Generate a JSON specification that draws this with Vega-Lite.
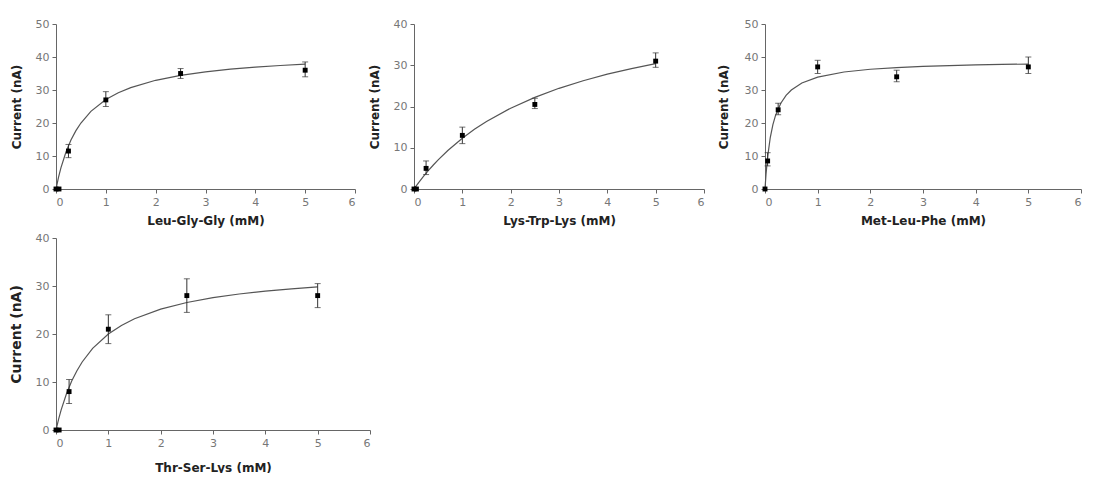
{
  "$schema": "https://vega.github.io/schema/vega-lite/v6.json",
  "background": "white",
  "padding": {"left": 9, "top": 18, "right": 0, "bottom": 0},
  "spacing": 6,
  "config": {
    "view": {"stroke": null},
    "font": "DejaVu Sans",
    "axis": {
      "grid": false,
      "domainColor": "#666",
      "tickColor": "#666",
      "tickSize": 4,
      "labelColor": "#777",
      "labelFontSize": 11,
      "labelPadding": 3,
      "titleColor": "#222",
      "titleFontSize": 12,
      "titleFontWeight": "bold"
    },
    "axisX": {"titlePadding": 8},
    "axisY": {"titlePadding": 12}
  },
  "datasets": {
    "pts": [
      {"p": "LGG", "x": 0, "y": 0},
      {"p": "LGG", "x": 0.06, "y": 0},
      {"p": "LGG", "x": 0.25, "y": 11.5, "lo": 9.5, "hi": 13.5},
      {"p": "LGG", "x": 1, "y": 27, "lo": 25, "hi": 29.5},
      {"p": "LGG", "x": 2.5, "y": 35, "lo": 33.5, "hi": 36.5},
      {"p": "LGG", "x": 5, "y": 36, "lo": 34, "hi": 38.5},
      {"p": "KWK", "x": 0, "y": 0},
      {"p": "KWK", "x": 0.05, "y": 0},
      {"p": "KWK", "x": 0.25, "y": 5, "lo": 3.5, "hi": 6.8},
      {"p": "KWK", "x": 1, "y": 13, "lo": 11, "hi": 15},
      {"p": "KWK", "x": 2.5, "y": 20.5, "lo": 19.5, "hi": 22},
      {"p": "KWK", "x": 5, "y": 31, "lo": 29.5, "hi": 33},
      {"p": "MLF", "x": 0, "y": 0},
      {"p": "MLF", "x": 0.05, "y": 8.5, "lo": 7, "hi": 11},
      {"p": "MLF", "x": 0.25, "y": 24, "lo": 22.5, "hi": 26},
      {"p": "MLF", "x": 1, "y": 37, "lo": 35, "hi": 39},
      {"p": "MLF", "x": 2.5, "y": 34, "lo": 32.5, "hi": 36},
      {"p": "MLF", "x": 5, "y": 37, "lo": 35, "hi": 40},
      {"p": "TSK", "x": 0, "y": 0},
      {"p": "TSK", "x": 0.06, "y": 0},
      {"p": "TSK", "x": 0.25, "y": 8, "lo": 5.5, "hi": 10.5},
      {"p": "TSK", "x": 1, "y": 21, "lo": 18, "hi": 24},
      {"p": "TSK", "x": 2.5, "y": 28, "lo": 24.5, "hi": 31.5},
      {"p": "TSK", "x": 5, "y": 28, "lo": 25.5, "hi": 30.5}
    ],
    "fit": [
      {"p": "LGG", "x": 0, "y": 0}, {"p": "LGG", "x": 0.05, "y": 3.5}, {"p": "LGG", "x": 0.1, "y": 6.46},
      {"p": "LGG", "x": 0.2, "y": 11.2}, {"p": "LGG", "x": 0.3, "y": 14.82}, {"p": "LGG", "x": 0.4, "y": 17.68},
      {"p": "LGG", "x": 0.5, "y": 20.0}, {"p": "LGG", "x": 0.7, "y": 23.52}, {"p": "LGG", "x": 1, "y": 27.1},
      {"p": "LGG", "x": 1.25, "y": 29.17}, {"p": "LGG", "x": 1.5, "y": 30.73}, {"p": "LGG", "x": 2, "y": 32.94},
      {"p": "LGG", "x": 2.5, "y": 34.43}, {"p": "LGG", "x": 3, "y": 35.49}, {"p": "LGG", "x": 3.5, "y": 36.3},
      {"p": "LGG", "x": 4, "y": 36.92}, {"p": "LGG", "x": 4.5, "y": 37.43}, {"p": "LGG", "x": 5, "y": 37.84},
      {"p": "KWK", "x": 0, "y": 0}, {"p": "KWK", "x": 0.05, "y": 0.81}, {"p": "KWK", "x": 0.1, "y": 1.6},
      {"p": "KWK", "x": 0.2, "y": 3.1}, {"p": "KWK", "x": 0.3, "y": 4.5}, {"p": "KWK", "x": 0.4, "y": 5.82},
      {"p": "KWK", "x": 0.5, "y": 7.06}, {"p": "KWK", "x": 0.7, "y": 9.33}, {"p": "KWK", "x": 1, "y": 12.31},
      {"p": "KWK", "x": 1.25, "y": 14.46}, {"p": "KWK", "x": 1.5, "y": 16.36}, {"p": "KWK", "x": 2, "y": 19.59},
      {"p": "KWK", "x": 2.5, "y": 22.22}, {"p": "KWK", "x": 3, "y": 24.41}, {"p": "KWK", "x": 3.5, "y": 26.25},
      {"p": "KWK", "x": 4, "y": 27.83}, {"p": "KWK", "x": 4.5, "y": 29.19}, {"p": "KWK", "x": 5, "y": 30.38},
      {"p": "MLF", "x": 0, "y": 0}, {"p": "MLF", "x": 0.02, "y": 4.59}, {"p": "MLF", "x": 0.05, "y": 9.75},
      {"p": "MLF", "x": 0.1, "y": 15.6}, {"p": "MLF", "x": 0.15, "y": 19.5}, {"p": "MLF", "x": 0.2, "y": 22.29},
      {"p": "MLF", "x": 0.3, "y": 26.0}, {"p": "MLF", "x": 0.4, "y": 28.36}, {"p": "MLF", "x": 0.5, "y": 30.0},
      {"p": "MLF", "x": 0.7, "y": 32.12}, {"p": "MLF", "x": 1, "y": 33.91}, {"p": "MLF", "x": 1.5, "y": 35.45},
      {"p": "MLF", "x": 2, "y": 36.28}, {"p": "MLF", "x": 2.5, "y": 36.79}, {"p": "MLF", "x": 3, "y": 37.14},
      {"p": "MLF", "x": 3.5, "y": 37.4}, {"p": "MLF", "x": 4, "y": 37.59}, {"p": "MLF", "x": 4.5, "y": 37.74},
      {"p": "MLF", "x": 5, "y": 37.86},
      {"p": "TSK", "x": 0, "y": 0}, {"p": "TSK", "x": 0.05, "y": 2.27}, {"p": "TSK", "x": 0.1, "y": 4.25},
      {"p": "TSK", "x": 0.2, "y": 7.56}, {"p": "TSK", "x": 0.3, "y": 10.2}, {"p": "TSK", "x": 0.4, "y": 12.36},
      {"p": "TSK", "x": 0.5, "y": 14.17}, {"p": "TSK", "x": 0.7, "y": 17.0}, {"p": "TSK", "x": 1, "y": 20.0},
      {"p": "TSK", "x": 1.25, "y": 21.79}, {"p": "TSK", "x": 1.5, "y": 23.18}, {"p": "TSK", "x": 2, "y": 25.19},
      {"p": "TSK", "x": 2.5, "y": 26.56}, {"p": "TSK", "x": 3, "y": 27.57}, {"p": "TSK", "x": 3.5, "y": 28.33},
      {"p": "TSK", "x": 4, "y": 28.94}, {"p": "TSK", "x": 4.5, "y": 29.42}, {"p": "TSK", "x": 5, "y": 29.82}
    ]
  },
  "vconcat": [
    {
      "spacing": 12,
      "hconcat": [
        {
          "width": 299, "height": 165,
          "encoding": {
            "x": {"field": "x", "type": "quantitative", "title": "Leu-Gly-Gly (mM)", "scale": {"domain": [0, 6], "nice": false}, "axis": {"values": [0,1,2,3,4,5,6]}},
            "y": {"field": "y", "type": "quantitative", "title": "Current (nA)", "scale": {"domain": [0, 50], "nice": false}, "axis": {"values": [0,10,20,30,40,50]}}
          },
          "layer": [
            {"data": {"name": "fit"}, "transform": [{"filter": "datum.p === 'LGG'"}],
             "mark": {"type": "line", "color": "#555", "strokeWidth": 1.2}},
            {"data": {"name": "pts"}, "transform": [{"filter": "datum.p === 'LGG' && isValid(datum.lo)"}],
             "mark": {"type": "errorbar", "ticks": {"size": 6, "color": "#333"}, "rule": {"color": "#333"}},
             "encoding": {"y": {"field": "lo", "type": "quantitative", "title": "Current (nA)"}, "y2": {"field": "hi"}}},
            {"data": {"name": "pts"}, "transform": [{"filter": "datum.p === 'LGG'"}],
             "mark": {"type": "point", "shape": "square", "filled": true, "color": "#000", "size": 24, "opacity": 1}}
          ]
        },
        {
          "width": 290, "height": 165,
          "encoding": {
            "x": {"field": "x", "type": "quantitative", "title": "Lys-Trp-Lys (mM)", "scale": {"domain": [0, 6], "nice": false}, "axis": {"values": [0,1,2,3,4,5,6]}},
            "y": {"field": "y", "type": "quantitative", "title": "Current (nA)", "scale": {"domain": [0, 40], "nice": false}, "axis": {"values": [0,10,20,30,40]}}
          },
          "layer": [
            {"data": {"name": "fit"}, "transform": [{"filter": "datum.p === 'KWK'"}],
             "mark": {"type": "line", "color": "#555", "strokeWidth": 1.2}},
            {"data": {"name": "pts"}, "transform": [{"filter": "datum.p === 'KWK' && isValid(datum.lo)"}],
             "mark": {"type": "errorbar", "ticks": {"size": 6, "color": "#333"}, "rule": {"color": "#333"}},
             "encoding": {"y": {"field": "lo", "type": "quantitative", "title": "Current (nA)"}, "y2": {"field": "hi"}}},
            {"data": {"name": "pts"}, "transform": [{"filter": "datum.p === 'KWK'"}],
             "mark": {"type": "point", "shape": "square", "filled": true, "color": "#000", "size": 24, "opacity": 1}}
          ]
        },
        {
          "width": 316, "height": 165,
          "encoding": {
            "x": {"field": "x", "type": "quantitative", "title": "Met-Leu-Phe (mM)", "scale": {"domain": [0, 6], "nice": false}, "axis": {"values": [0,1,2,3,4,5,6]}},
            "y": {"field": "y", "type": "quantitative", "title": "Current (nA)", "scale": {"domain": [0, 50], "nice": false}, "axis": {"values": [0,10,20,30,40,50], "titlePadding": 14}}
          },
          "layer": [
            {"data": {"name": "fit"}, "transform": [{"filter": "datum.p === 'MLF'"}],
             "mark": {"type": "line", "color": "#555", "strokeWidth": 1.2}},
            {"data": {"name": "pts"}, "transform": [{"filter": "datum.p === 'MLF' && isValid(datum.lo)"}],
             "mark": {"type": "errorbar", "ticks": {"size": 6, "color": "#333"}, "rule": {"color": "#333"}},
             "encoding": {"y": {"field": "lo", "type": "quantitative", "title": "Current (nA)"}, "y2": {"field": "hi"}}},
            {"data": {"name": "pts"}, "transform": [{"filter": "datum.p === 'MLF'"}],
             "mark": {"type": "point", "shape": "square", "filled": true, "color": "#000", "size": 24, "opacity": 1}}
          ]
        }
      ]
    },
    {
      "width": 314, "height": 192,
      "encoding": {
        "x": {"field": "x", "type": "quantitative", "title": "Thr-Ser-Lys (mM)", "scale": {"domain": [0, 6], "nice": false}, "axis": {"values": [0,1,2,3,4,5,6], "titlePadding": 14}},
        "y": {"field": "y", "type": "quantitative", "title": "Current (nA)", "scale": {"domain": [0, 40], "nice": false}, "axis": {"values": [0,10,20,30,40], "titleFontSize": 14, "titlePadding": 12}}
      },
      "layer": [
        {"data": {"name": "fit"}, "transform": [{"filter": "datum.p === 'TSK'"}],
         "mark": {"type": "line", "color": "#555", "strokeWidth": 1.2}},
        {"data": {"name": "pts"}, "transform": [{"filter": "datum.p === 'TSK' && isValid(datum.lo)"}],
         "mark": {"type": "errorbar", "ticks": {"size": 6, "color": "#333"}, "rule": {"color": "#333"}},
         "encoding": {"y": {"field": "lo", "type": "quantitative", "title": "Current (nA)"}, "y2": {"field": "hi"}}},
        {"data": {"name": "pts"}, "transform": [{"filter": "datum.p === 'TSK'"}],
         "mark": {"type": "point", "shape": "square", "filled": true, "color": "#000", "size": 24, "opacity": 1}}
      ]
    }
  ]
}
